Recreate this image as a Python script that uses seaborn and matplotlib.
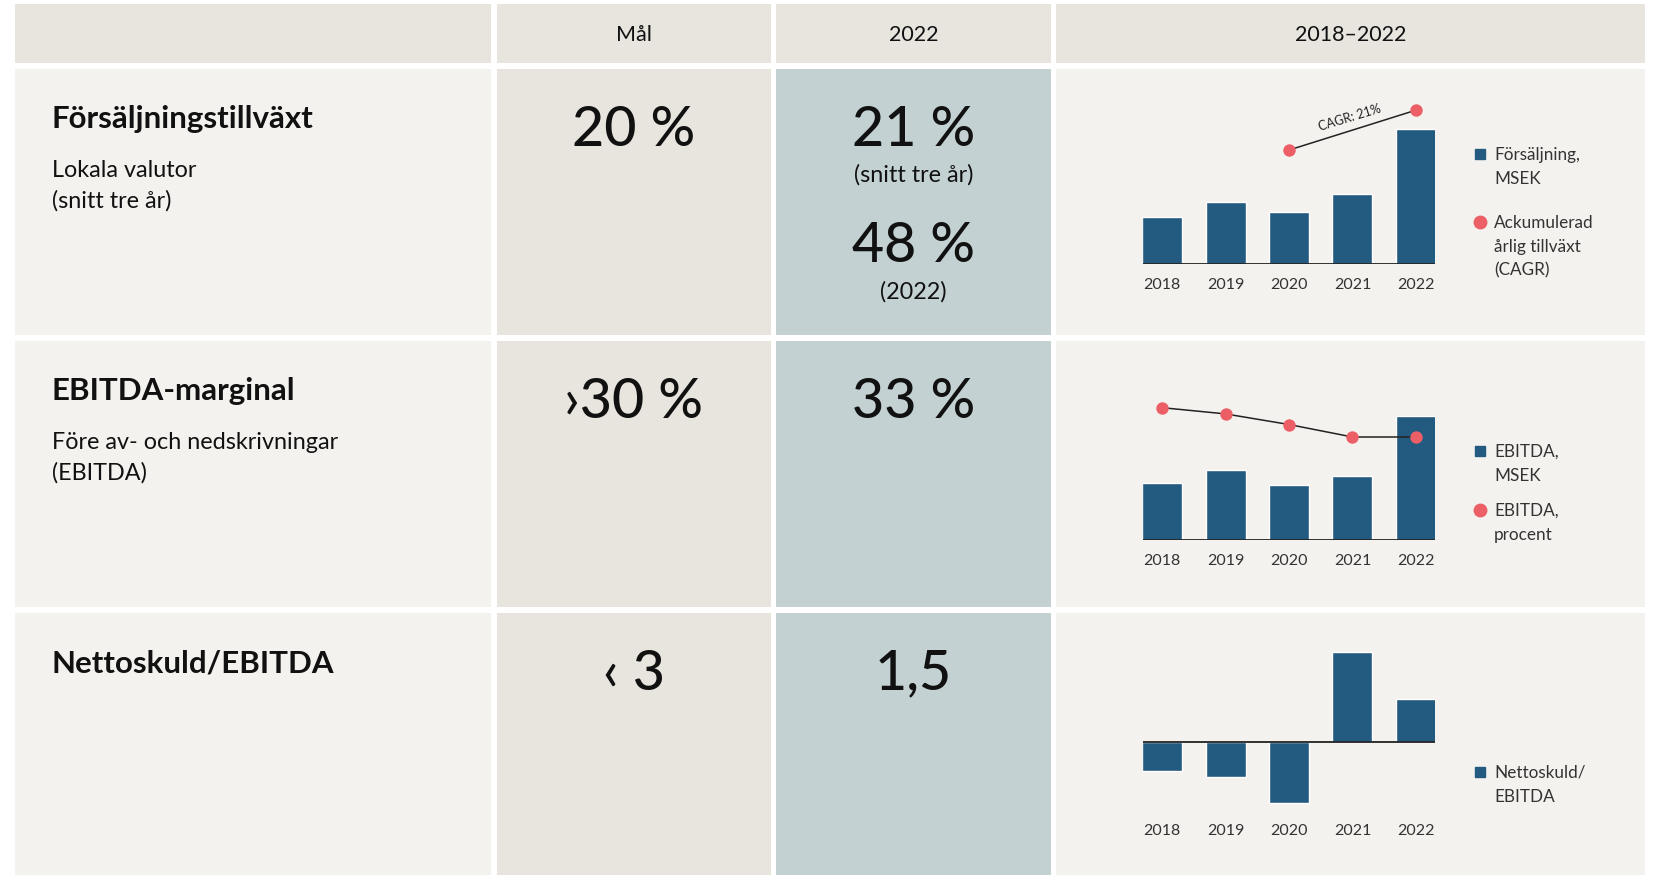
import matplotlib
matplotlib.use("Agg")
import matplotlib.pyplot as plt
from matplotlib.patches import Rectangle
from matplotlib.lines import Line2D
import seaborn as sns
import pandas as pd

# data
years = ['2018', '2019', '2020', '2021', '2022']
sales_msek = [1080, 1420, 1180, 1590, 3080]
cagr_years = ['2020', '2022']
cagr_level = [2600, 3510]
ebitda_msek = [465, 570, 450, 525, 1015]
ebitda_pct = [42.4, 40.4, 37.0, 33.0, 33.0]
net_debt_ebitda = [-1.0, -1.2, -2.1, 3.1, 1.5]

headers = ['Mål', '2022', '2018–2022']
row_titles = ['Försäljningstillväxt', 'EBITDA-marginal', 'Nettoskuld/EBITDA']
row_subtitles = ['Lokala valutor\n(snitt tre år)', 'Före av- och nedskrivningar\n(EBITDA)', '']
targets = ['20 %', '›30 %', '‹ 3']
outcome_main = ['21 %', '33 %', '1,5']

W, H = 1653, 875
BAR = '#235a80'
DOT = '#ec5f67'
HEAD_BG = '#e8e4de'
LIGHT_BG = '#f4f2ef'
MAL_BG = '#e8e4de'
BLUE_BG = '#c4d1d3'
TXT = '#111111'
GREY = '#333333'

sns.set_theme(style="white")
plt.rcParams['font.family'] = ['Lato', 'DejaVu Sans']

fig = plt.figure(figsize=(W / 100, H / 100), dpi=100)
fig.patch.set_facecolor('white')

# bakgrundsaxel i pixelkoordinater
bg = fig.add_axes([0, 0, 1, 1])
bg.set_xlim(0, W)
bg.set_ylim(H, 0)
bg.axis('off')

cols = [(15, 491), (497, 771), (776, 1051), (1056, 1645)]
rows = [(69, 335), (341, 607), (613, 875)]

for x0, x1 in cols:
    bg.add_patch(Rectangle((x0, 4), x1 - x0, 59, color=HEAD_BG, lw=0))
for y0, y1 in rows:
    for i, (x0, x1) in enumerate(cols):
        c = [LIGHT_BG, MAL_BG, BLUE_BG, LIGHT_BG][i]
        bg.add_patch(Rectangle((x0, y0), x1 - x0, y1 - y0, color=c, lw=0))

for (x0, x1), h in zip(cols[1:], headers):
    bg.text((x0 + x1) / 2, 35, h, ha='center', va='center', fontsize=15.5, color=TXT)

c2 = (cols[1][0] + cols[1][1]) / 2
c3 = (cols[2][0] + cols[2][1]) / 2
for i, (y0, y1) in enumerate(rows):
    bg.text(52, y0 + 50, row_titles[i], ha='left', va='center', fontsize=22.5,
            fontweight='bold', color=TXT)
    if row_subtitles[i]:
        bg.text(52, y0 + 91, row_subtitles[i], ha='left', va='top', fontsize=16.8,
                color=TXT, linespacing=1.5)
    bg.text(c2, y0 + 61, targets[i], ha='center', va='center', fontsize=40,
            fontweight='medium', color=TXT)
    bg.text(c3, y0 + 61, outcome_main[i], ha='center', va='center', fontsize=40,
            fontweight='medium', color=TXT)

bg.text(c3, 175, '(snitt tre år)', ha='center', va='center', fontsize=16.8, color=TXT)
bg.text(c3, 246, '48 %', ha='center', va='center', fontsize=40, fontweight='medium', color=TXT)
bg.text(c3, 292, '(2022)', ha='center', va='center', fontsize=16.8, color=TXT)


def chart_axes(top, bottom):
    ax = fig.add_axes([1143 / W, 1 - bottom / H, (1435 - 1143) / W, (bottom - top) / H])
    ax.set_facecolor('none')
    return ax


def style(ax):
    sns.despine(ax=ax, left=True, bottom=True)
    ax.set_xlim(-0.3, 4.3)
    ax.set_yticks([])
    ax.set_xlabel('')
    ax.set_ylabel('')
    ax.tick_params(axis='x', length=0, labelsize=11.5, labelcolor=GREY, pad=10)
    ax.axhline(0, color='#222222', lw=1.3, zorder=3)


def legend(items, x=1480, tx=1494):
    for y, marker, color, label in items:
        bg.add_line(Line2D([x], [y], marker=marker, color=color,
                           markersize=7 if marker == 's' else 9, lw=0))
        bg.text(tx, y - 7, label, ha='left', va='top', fontsize=12.3, color=GREY,
                linespacing=1.6)


# diagram 1: försäljning
ax1 = chart_axes(95, 264)
df1 = pd.DataFrame({'year': years, 'value': sales_msek})
sns.barplot(data=df1, x='year', y='value', color=BAR, width=0.63, saturation=1, ax=ax1)
ax1.set_ylim(0, 169 * 3080 / 135)
xs = [years.index(y) for y in cagr_years]
ax1.plot(xs, cagr_level, color='#222222', lw=1.1, zorder=4)
ax1.scatter(xs, cagr_level, s=80, color=DOT, zorder=5, linewidths=0)
ax1.text(sum(xs) / 2 - 0.02, sum(cagr_level) / 2 + 150, 'CAGR: 21%', rotation=17,
         ha='center', va='bottom', fontsize=9, color='#222222', rotation_mode='anchor')
style(ax1)
legend([(154, 's', BAR, 'Försäljning,\nMSEK'),
        (222, 'o', DOT, 'Ackumulerad\nårlig tillväxt\n(CAGR)')])

# diagram 2: EBITDA
ax2 = chart_axes(392, 540)
df2 = pd.DataFrame({'year': years, 'value': ebitda_msek})
sns.barplot(data=df2, x='year', y='value', color=BAR, width=0.63, saturation=1, ax=ax2)
ax2.set_ylim(0, 148 * 1015 / 124)
tw = ax2.twinx()
tw.plot(range(len(years)), ebitda_pct, color='#222222', lw=1.1, zorder=4)
tw.scatter(range(len(years)), ebitda_pct, s=80, color=DOT, zorder=5, linewidths=0)
tw.set_ylim(0, 148 * 33.0 / 103)
tw.set_yticks([])
sns.despine(ax=tw, left=True, bottom=True, right=True)
style(ax2)
legend([(451, 's', BAR, 'EBITDA,\nMSEK'),
        (510, 'o', DOT, 'EBITDA,\nprocent')])

# diagram 3: nettoskuld/EBITDA
ax3 = chart_axes(641, 810)
df3 = pd.DataFrame({'year': years, 'value': net_debt_ebitda})
sns.barplot(data=df3, x='year', y='value', color=BAR, width=0.63, saturation=1, ax=ax3)
ax3.set_ylim(-2.35, 3.49)
style(ax3)
legend([(772, 's', BAR, 'Nettoskuld/\nEBITDA')])

fig.savefig('out.png', dpi=100, facecolor='white')
